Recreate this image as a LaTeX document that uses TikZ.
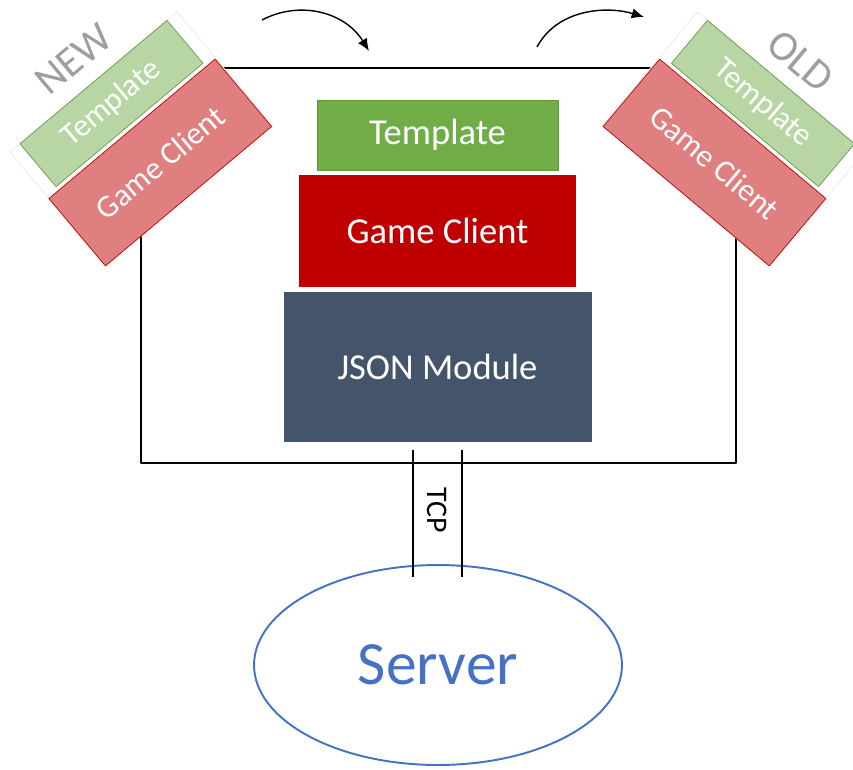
\documentclass[tikz,border=0pt]{standalone}
\usepackage{fontspec}
\setmainfont{Carlito}
\usepackage{tikz}
\usetikzlibrary{arrows.meta, positioning, shapes.geometric}

\definecolor{tplgreen}{HTML}{70AD47}
\definecolor{tplgreenline}{HTML}{5E9A3A}
\definecolor{tplgreenfade}{HTML}{B7D6A3}
\definecolor{tplgreenfadeline}{HTML}{6A9A4A}
\definecolor{gcred}{HTML}{C00000}
\definecolor{gcredfade}{HTML}{DF7F7F}
\definecolor{jsonslate}{HTML}{44546A}
\definecolor{serverblue}{HTML}{4472C4}

\tikzset{
	layer/.style={draw, inner sep=0pt, text=white, font=\fontsize{20.8}{24}\selectfont},
	swap/.style={draw, inner sep=0pt, text=white, font=\fontsize{18}{21}\selectfont},
	tag/.style={inner sep=0pt, text=black!38, font=\fontsize{24}{28}\selectfont},
}

\begin{document}
\begin{tikzpicture}[x=0.02cm, y=-0.02cm, line join=round]
			\useasboundingbox (0,0) rectangle (853,769);
			
			% client machine
			\node (frame) [draw, line width=1.1pt, minimum width=11.9cm, minimum height=7.9cm] at (438.5,265.5) {};
			
			% --- LEFT: new pair coming in ---
			\node (newbg) [draw=black!8, fill=white, rotate=40, minimum width=4.36cm, minimum height=2.98cm] at (141.2,138.9) {};
			\node (newtpl) [swap, fill=tplgreenfade, draw=tplgreenfadeline, rotate=40, minimum width=3.84cm, minimum height=1.12cm] at (111.5,103.5) {Template};
			\node (newgc) [swap, fill=gcredfade, draw=gcred, rotate=40, minimum width=4.34cm, minimum height=1.76cm] at (160.25,162.5) {Game Client};
			\node (newtag) [tag, rotate=40] at (73.5,59) {NEW};
			
			% --- RIGHT: old pair going out ---
			\node (oldbg) [draw=black!8, fill=white, rotate=-40, minimum width=4.36cm, minimum height=2.98cm] at (733.3,138.9) {};
			\node (oldtpl) [swap, fill=tplgreenfade, draw=tplgreenfadeline, rotate=-40, minimum width=3.84cm, minimum height=1.12cm] at (763,103.5) {Template};
			\node (oldgc) [swap, fill=gcredfade, draw=gcred, rotate=-40, minimum width=4.34cm, minimum height=1.76cm] at (714.5,162.5) {Game Client};
			\node (oldtag) [tag, rotate=-40] at (800.5,61) {OLD};
			
			% --- MIDDLE: the running stack ---
			\node (tpl) [layer, fill=tplgreen, draw=tplgreenline, minimum width=4.82cm, minimum height=1.4cm] at (437.5,135) {Template};
			\node (gc) [layer, fill=gcred, draw=gcred, minimum width=5.52cm, minimum height=2.22cm, below=0.1cm of tpl] {Game Client};
			\node (json) [layer, fill=jsonslate, draw=jsonslate, minimum width=6.14cm, minimum height=2.98cm, below=0.1cm of gc] {JSON Module};
			
			% swap arrows
			\coordinate (inA) at (262,20);
			\coordinate (inB) at (369,51);
			\coordinate (outA) at (537,47);
			\coordinate (outB) at (644,17);
			\draw[-{Latex[length=7pt, width=6pt]}, line width=0.8pt] (inA) .. controls (300,0) and (345,12) .. (inB);
			\draw[-{Latex[length=7pt, width=6pt]}, line width=0.8pt] (outA) .. controls (558,8) and (608,6) .. (outB);
			
			% server and link
			\node (server) [draw=serverblue, line width=1.1pt, ellipse, minimum width=7.36cm, minimum height=4cm, text=serverblue, font=\fontsize{35}{40}\selectfont] at (438,665) {Server};
			\coordinate (tcpLa) at (413,450);
			\coordinate (tcpLb) at (413,577);
			\coordinate (tcpRa) at (462,450);
			\coordinate (tcpRb) at (462,577);
			\draw[line width=1.7pt] (tcpLa) -- (tcpLb);
			\draw[line width=1.7pt] (tcpRa) -- (tcpRb);
			\node (tcp) [rotate=-90, font=\fontsize{17}{20}\selectfont] at (437.5,510) {TCP};
\end{tikzpicture}
\end{document}
